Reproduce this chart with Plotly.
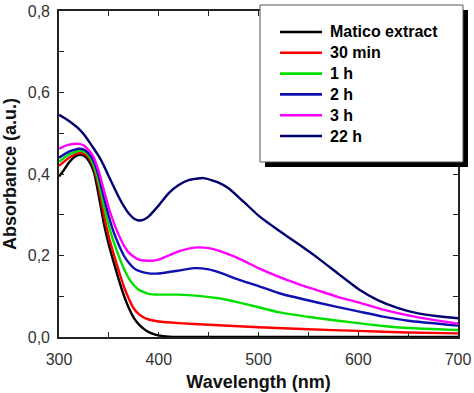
import plotly.graph_objects as go

# ---------------- data ----------------
series_names = ["Matico extract", "30 min", "1 h", "2 h", "3 h", "22 h"]
series_colors = ["#000000", "#ff0000", "#00e000", "#1010b0", "#ff00ff", "#00006e"]

wl_matico = [300, 305, 310, 315, 320, 325, 330, 335, 340, 345, 350, 355, 360, 365, 370,
             375, 380, 385, 390, 395, 400, 410, 420, 500, 600, 700]
abs_matico = [0.394, 0.41, 0.428, 0.441, 0.447, 0.445, 0.432, 0.405, 0.345, 0.278, 0.226, 0.182,
              0.14, 0.102, 0.071, 0.047, 0.031, 0.02, 0.012, 0.007, 0.004, 0.001, 0.0, 0.0, 0.0, 0.0]

wl_30min = [300, 310, 320, 325, 330, 335, 340, 345, 350, 355, 360, 365, 370, 375, 380, 385,
            390, 400, 420, 450, 500, 550, 600, 650, 700]
abs_30min = [0.42, 0.44, 0.452, 0.45, 0.44, 0.415, 0.365, 0.3, 0.245, 0.202, 0.162, 0.124,
             0.094, 0.07, 0.056, 0.048, 0.043, 0.038, 0.034, 0.03, 0.024, 0.019, 0.015, 0.011, 0.009]

wl_1h = [300, 310, 320, 325, 330, 335, 340, 345, 350, 355, 360, 365, 370, 375, 380, 385, 390,
         400, 420, 440, 460, 480, 500, 520, 560, 600, 625, 650, 700]
abs_1h = [0.43, 0.448, 0.457, 0.455, 0.445, 0.42, 0.378, 0.322, 0.272, 0.232, 0.198, 0.168,
          0.144, 0.127, 0.116, 0.11, 0.106, 0.104, 0.104, 0.101, 0.095, 0.085, 0.073, 0.061,
          0.046, 0.034, 0.027, 0.022, 0.017]

wl_2h = [300, 310, 320, 325, 330, 335, 340, 345, 350, 355, 360, 365, 370, 375, 380, 390, 400,
         420, 435, 450, 460, 480, 500, 520, 560, 600, 625, 650, 700]
abs_2h = [0.44, 0.455, 0.462, 0.46, 0.45, 0.43, 0.393, 0.343, 0.295, 0.256, 0.226, 0.2,
          0.182, 0.169, 0.162, 0.156, 0.156, 0.163, 0.169, 0.166, 0.159, 0.141, 0.125, 0.108,
          0.084, 0.063, 0.05, 0.04, 0.028]

wl_3h = [300, 305, 310, 320, 325, 330, 335, 340, 345, 350, 355, 360, 365, 370, 375, 380, 390,
         400, 410, 420, 430, 440, 450, 460, 480, 500, 520, 540, 560, 580, 600, 625, 650, 675, 700]
abs_3h = [0.462, 0.468, 0.472, 0.474, 0.47, 0.458, 0.44, 0.405, 0.36, 0.316, 0.28, 0.25, 0.225,
          0.207, 0.197, 0.19, 0.187, 0.19, 0.2, 0.21, 0.217, 0.22, 0.218, 0.212, 0.193, 0.169,
          0.148, 0.13, 0.114, 0.098, 0.085, 0.067, 0.053, 0.042, 0.033]

wl_22h = [300, 305, 310, 315, 320, 325, 330, 335, 340, 345, 350, 355, 360, 365, 370, 375, 380,
          385, 390, 400, 410, 420, 430, 445, 460, 470, 485, 500, 520, 540, 560, 580, 600, 620,
          640, 660, 680, 700]
abs_22h = [0.545, 0.538, 0.53, 0.521, 0.511, 0.497, 0.48, 0.462, 0.443, 0.42, 0.394, 0.368,
           0.343, 0.321, 0.303, 0.291, 0.286, 0.288, 0.296, 0.323, 0.353, 0.373, 0.385, 0.39,
           0.379, 0.365, 0.332, 0.298, 0.262, 0.228, 0.193, 0.155, 0.118, 0.09, 0.071, 0.058,
           0.051, 0.046]

x_tick_vals = [300, 400, 500, 600, 700]
y_tick_vals = [0.0, 0.2, 0.4, 0.6, 0.8]

all_x = [wl_matico, wl_30min, wl_1h, wl_2h, wl_3h, wl_22h]
all_y = [abs_matico, abs_30min, abs_1h, abs_2h, abs_3h, abs_22h]

# ---------------- layout geometry (pixels) ----------------
W, H = 474, 393
ML, MR, MT, MB = 59, 16, 11, 56
PW, PH = W - ML - MR, H - MT - MB


def px_x(p):
    return (p - ML) / PW


def px_y(p):
    return (H - MB - p) / PH


fig = go.Figure()
for name, col, xs, ys in zip(series_names, series_colors, all_x, all_y):
    fig.add_trace(go.Scatter(x=xs, y=ys, name=name, mode="lines",
                             line=dict(color=col, width=2.4, shape="spline", smoothing=0.5),
                             showlegend=False))

# ---------------- manual legend box with drop shadow ----------------
shapes = []
box_l, box_t, box_r, box_b = 260, 5, 463, 162
sh = 5
shapes.append(dict(type="rect", xref="paper", yref="paper",
                   x0=px_x(box_l + sh), x1=px_x(box_r + sh), y0=px_y(box_b + sh), y1=px_y(box_t + sh),
                   fillcolor="#000000", line=dict(width=0), layer="above"))
shapes.append(dict(type="rect", xref="paper", yref="paper",
                   x0=px_x(box_l), x1=px_x(box_r), y0=px_y(box_b), y1=px_y(box_t),
                   fillcolor="#ffffff", line=dict(color="#555555", width=1), layer="above"))
annotations = []
row0, row_step = 32, 20.8
for i, (name, col) in enumerate(zip(series_names, series_colors)):
    yy = row0 + i * row_step
    shapes.append(dict(type="line", xref="paper", yref="paper",
                       x0=px_x(280), x1=px_x(322), y0=px_y(yy), y1=px_y(yy),
                       line=dict(color=col, width=2.6), layer="above"))
    annotations.append(dict(xref="paper", yref="paper", x=px_x(328), y=px_y(yy),
                            xanchor="left", yanchor="middle", text="<b>%s</b>" % name,
                            showarrow=False,
                            font=dict(family="Liberation Sans, Arial, sans-serif", size=16,
                                      color="#000000")))

axis_common = dict(showline=True, linecolor="#222222", linewidth=1.6, mirror="ticks",
                   ticks="inside", ticklen=5, tickwidth=1.4, tickcolor="#222222",
                   showgrid=False, zeroline=False, automargin=False,
                   tickfont=dict(family="Liberation Sans, Arial, sans-serif", size=16,
                                 color="#333333"))

fig.update_layout(
    width=W, height=H,
    margin=dict(l=ML, r=MR, t=MT, b=MB),
    paper_bgcolor="#ffffff", plot_bgcolor="#ffffff",
    separators=",.",
    showlegend=False,
    xaxis=dict(range=[300, 700], tickvals=x_tick_vals, ticklabelstandoff=7,
               minor=dict(ticks="inside", dtick=50, ticklen=5, tickwidth=1.4, tickcolor="#222222"),
               title=dict(text="<b>Wavelength (nm)</b>", standoff=8,
                          font=dict(family="Liberation Sans, Arial, sans-serif", size=18,
                                    color="#111111")),
               **axis_common),
    yaxis=dict(range=[0, 0.8], tickvals=y_tick_vals, tickformat=".1f", ticklabelstandoff=4,
               minor=dict(ticks="inside", dtick=0.1, ticklen=5, tickwidth=1.4, tickcolor="#222222"),
               title=dict(text="<b>Absorbance (a.u.)</b>", standoff=6,
                          font=dict(family="Liberation Sans, Arial, sans-serif", size=18,
                                    color="#111111")),
               **axis_common),
    shapes=shapes,
    annotations=annotations,
)

fig.write_html("out.html", config={"displayModeBar": False},
               post_script="document.body.style.margin='0';document.body.style.overflow='hidden';")
